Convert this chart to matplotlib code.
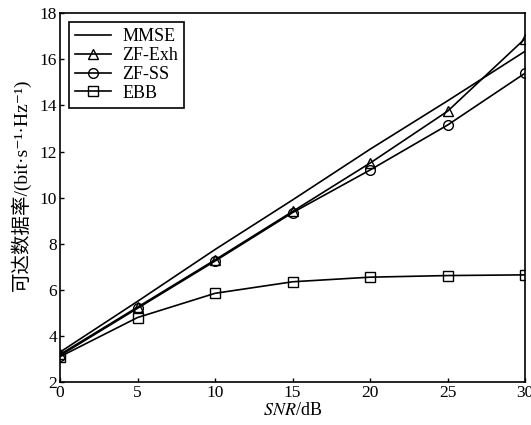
import matplotlib
matplotlib.use("Agg")
import matplotlib.pyplot as plt

snr = [0, 5, 10, 15, 20, 25, 30]
mmse = [3.3, 5.5, 7.75, 9.9, 12.1, 14.2, 16.35]
zf_exh = [3.2, 5.25, 7.3, 9.4, 11.5, 13.75, 16.9]
zf_ss = [3.15, 5.2, 7.25, 9.35, 11.2, 13.15, 15.4]
ebb = [3.1, 4.8, 5.85, 6.35, 6.55, 6.62, 6.65]

x_ticks = [0, 5, 10, 15, 20, 25, 30]
y_ticks = [2, 4, 6, 8, 10, 12, 14, 16, 18]

plt.rcParams['font.family'] = ['Liberation Serif', 'Noto Sans CJK SC', 'DejaVu Serif']
plt.rcParams['mathtext.fontset'] = 'stix'
plt.rcParams['font.size'] = 13

fig = plt.figure(figsize=(5.31, 4.25), dpi=100)
ax = fig.add_axes([0.113, 0.101, 0.876, 0.868])

style = dict(color='black', linewidth=1.2, markerfacecolor='none',
             markeredgecolor='black', markersize=7, markeredgewidth=1.0)
ax.plot(snr, mmse, label='MMSE', **style)
ax.plot(snr, zf_exh, marker='^', label='ZF-Exh', **style)
ax.plot(snr, zf_ss, marker='o', label='ZF-SS', **style)
ax.plot(snr, ebb, marker='s', label='EBB', **style)

ax.set_xlim(0, 30)
ax.set_ylim(2, 18)
ax.set_xticks(x_ticks)
ax.set_yticks(y_ticks)
ax.tick_params(direction='in', length=3, width=1, labelsize=12.5, pad=2)
for s in ax.spines.values():
    s.set_linewidth(1.2)

ax.set_xlabel(r'$SNR$/dB', fontsize=13, labelpad=1)
ax.set_ylabel('可达数据率/(bit·s⁻¹·Hz⁻¹)', fontsize=14)
ax.yaxis.set_label_coords(-0.063, 0.535)

leg = ax.legend(loc='upper left', fancybox=False, edgecolor='black',
                framealpha=1, handlelength=2.0, borderpad=0.35,
                labelspacing=0.1, handletextpad=0.6, fontsize=13,
                borderaxespad=0, bbox_to_anchor=(0.019, 0.976))
leg.get_frame().set_linewidth(1.2)

fig.savefig('out.png', dpi=100)
